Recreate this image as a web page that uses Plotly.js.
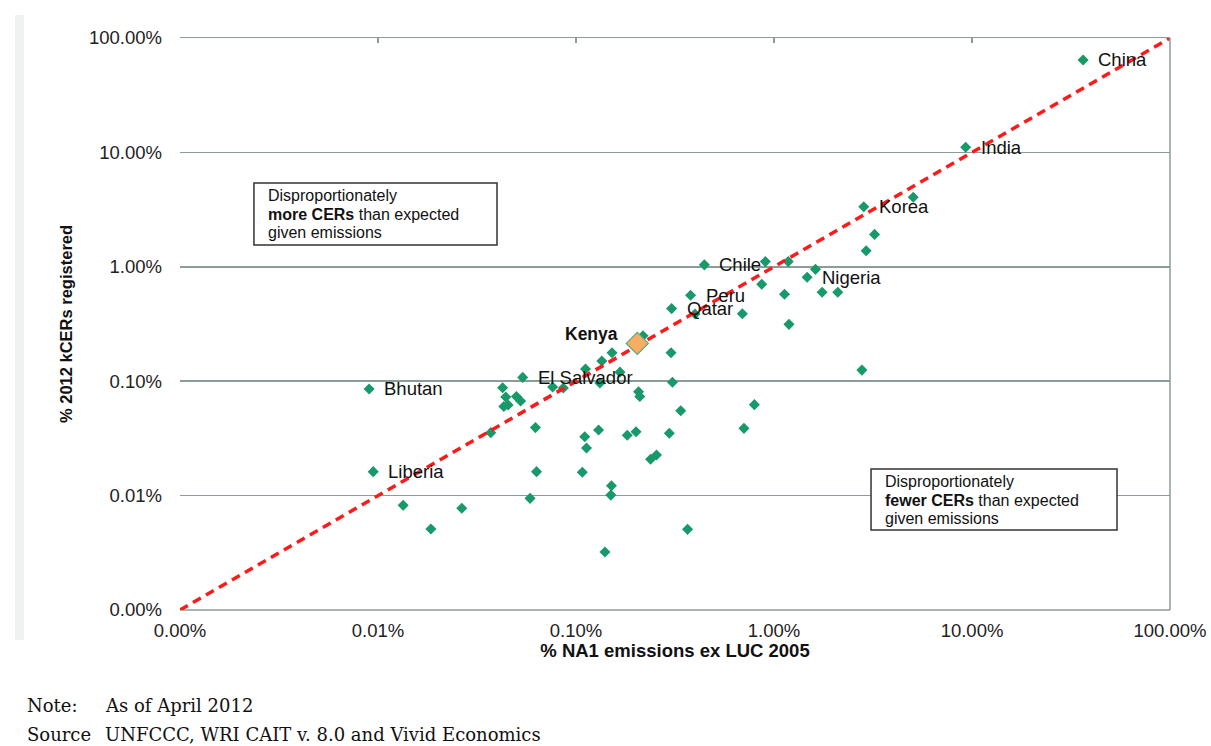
<!DOCTYPE html>
<html>
<head>
<meta charset="utf-8">
<script src="https://cdn.plot.ly/plotly-3.0.1.min.js"></script>
<style>
  html, body { margin: 0; padding: 0; background: #ffffff; }
  #chart { width: 1211px; height: 746px; }
</style>
</head>
<body>
<div id="chart"></div>
<script>
// Share of non-Annex 1 emissions (ex LUC, 2005) vs share of 2012 kCERs registered, in percent
const pointLabels = [
  'China', 'India', 'Korea', 'Chile', 'Nigeria', 'Peru', 'Qatar', 'El Salvador', 'Bhutan', 'Liberia',
  '', '', '', '', '', '', '', '', '', '', '', '', '', '', '', '', '', '', '', '', '', '', '', '', '',
  '', '', '', '', '', '', '', '', '', '', '', '', '', '', '', '', '', '', '', '', '', '', '', '', '',
  '', '', '', '', ''
];
const emissionsPct = [
  36.4, 9.29, 2.84, 0.445, 1.47, 0.379, 0.304, 0.0538, 0.00902, 0.00946,
  5.05, 3.22, 2.92, 1.62, 1.75, 2.10, 0.904, 1.18, 0.867, 1.13, 1.19, 0.692, 0.399, 0.302, 0.307,
  0.338, 0.796, 2.78, 0.0371, 0.0624, 0.1107, 0.130, 0.113, 0.1815, 0.201, 0.296, 0.705, 0.238, 0.255, 0.0632,
  0.1076, 0.151, 0.150, 0.0586, 0.366, 0.140, 0.0134, 0.0265, 0.0185, 0.0426, 0.0442, 0.0500, 0.0525, 0.0432, 0.0454,
  0.0762, 0.0863, 0.1117, 0.135, 0.152, 0.1667, 0.132, 0.207, 0.210, 0.218
];
const cersPct = [
  64.3, 11.1, 3.35, 1.04, 0.81, 0.564, 0.431, 0.108, 0.0855, 0.0162,
  4.05, 1.92, 1.38, 0.95, 0.60, 0.60, 1.11, 1.11, 0.703, 0.575, 0.314, 0.389, 0.386, 0.177, 0.0978,
  0.0552, 0.0624, 0.125, 0.0355, 0.0393, 0.0327, 0.0374, 0.0261, 0.0337, 0.0362, 0.0351, 0.0387, 0.0208, 0.0226, 0.0162,
  0.0160, 0.0122, 0.0101, 0.00946, 0.00507, 0.00321, 0.00822, 0.00775, 0.00511, 0.0877, 0.0728, 0.0734, 0.0671, 0.0601, 0.0620,
  0.0889, 0.0873, 0.128, 0.150, 0.177, 0.120, 0.0964, 0.0809, 0.0734, 0.250
];

// Highlighted country
const highlightName = 'Kenya';
const highlightEmissionsPct = [0.204];
const highlightCersPct = [0.214];

// 1:1 proportionality line across the full axis range
const parityX = [0.001, 100];
const parityY = [0.001, 100];

// Axis ticks
const tickValues = [0.001, 0.01, 0.1, 1, 10, 100];
const tickLabels = ['0.00%', '0.01%', '0.10%', '1.00%', '10.00%', '100.00%'];

const GREEN = '#17996a';
const GRID = '#8c9c96';
const SANS = 'Liberation Sans, Arial, sans-serif';

const traces = [
  {
    type: 'scatter', mode: 'markers',
    x: emissionsPct, y: cersPct, text: pointLabels,
    marker: { symbol: 'diamond', size: 8.5, color: GREEN, line: { width: 0 } },
    hoverinfo: 'text+x+y', showlegend: false
  },
  {
    type: 'scatter', mode: 'lines',
    x: parityX, y: parityY, xaxis: 'x2', yaxis: 'y',
    line: { color: '#ff1a1a', width: 3.5, dash: '9px,6px' },
    hoverinfo: 'skip', showlegend: false
  },
  {
    type: 'scatter', mode: 'markers',
    x: highlightEmissionsPct, y: highlightCersPct, text: [highlightName],
    xaxis: 'x2', yaxis: 'y',
    marker: { symbol: 'diamond', size: 17, color: '#f7ad63', line: { color: '#5fa37a', width: 1.2 } },
    hoverinfo: 'text+x+y', showlegend: false
  }
];

// Country name labels sit to the right of their marker
const annotations = [];
pointLabels.forEach((name, i) => {
  if (!name) return;
  annotations.push({
    x: Math.log10(emissionsPct[i]), y: Math.log10(cersPct[i]), xref: 'x', yref: 'y',
    text: name, showarrow: false, xanchor: 'left', yanchor: 'middle', xshift: 13,
    font: { family: SANS, size: 18.5, color: '#111111' }
  });
});
annotations.push({
  x: Math.log10(highlightEmissionsPct[0]), y: Math.log10(highlightCersPct[0]), xref: 'x', yref: 'y',
  text: '<b>' + highlightName + '</b>', showarrow: false, xanchor: 'right', yanchor: 'middle',
  xshift: -17, yshift: 9, font: { family: SANS, size: 17.5, color: '#111111' }
});

// Explanatory boxes
const boxFont = { family: SANS, size: 16, color: '#111111' };
const upperBoxLines = ['Disproportionately', '<b>more CERs</b> than expected', 'given emissions'];
const lowerBoxLines = ['Disproportionately', '<b>fewer CERs</b> than expected', 'given emissions'];
const upperBoxLineY = [0.7238, 0.6914, 0.6591];
const lowerBoxLineY = [0.2247, 0.1923, 0.1600];
upperBoxLines.forEach((t, i) => annotations.push({
  x: 0.0869, y: upperBoxLineY[i], xref: 'paper', yref: 'paper', text: t, showarrow: false,
  xanchor: 'left', yanchor: 'middle', font: boxFont
}));
lowerBoxLines.forEach((t, i) => annotations.push({
  x: 0.7101, y: lowerBoxLineY[i], xref: 'paper', yref: 'paper', text: t, showarrow: false,
  xanchor: 'left', yanchor: 'middle', font: boxFont
}));

// Footnotes
const noteFont = { family: 'DejaVu Serif, Georgia, serif', size: 18, color: '#111111' };
[
  ['Note:', -0.1566, -0.1678], ['As of April 2012', -0.0778, -0.1678],
  ['Source', -0.1566, -0.2185], ['UNFCCC, WRI CAIT v. 8.0 and Vivid Economics', -0.0778, -0.2185]
].forEach(([t, x, y]) => annotations.push({
  x: x, y: y, xref: 'paper', yref: 'paper', text: t, showarrow: false,
  xanchor: 'left', yanchor: 'middle', font: noteFont
}));

const layout = {
  width: 1211, height: 746,
  margin: { l: 180, r: 41, t: 38, b: 136 },
  paper_bgcolor: '#ffffff', plot_bgcolor: '#ffffff',
  showlegend: false,
  xaxis: {
    type: 'log', range: [-3, 2], tickvals: tickValues, ticktext: tickLabels,
    showgrid: false, zeroline: false, showline: false, ticks: '',
    ticklabelstandoff: 7,
    tickfont: { family: SANS, size: 18.5, color: '#222222' },
    title: { text: '<b>% NA1 emissions ex LUC 2005</b>', standoff: 3,
             font: { family: SANS, size: 18.5, color: '#111111' } },
    fixedrange: true
  },
  xaxis2: {
    type: 'log', range: [-3, 2], overlaying: 'x', side: 'top',
    tickvals: tickValues, showticklabels: false, showgrid: false, zeroline: false,
    showline: true, linecolor: GRID, linewidth: 1.5,
    ticks: 'inside', ticklen: 5, tickcolor: GRID, tickwidth: 1.2,
    fixedrange: true
  },
  yaxis: {
    type: 'log', range: [-3, 2], tickvals: tickValues, ticktext: tickLabels,
    showgrid: true, gridcolor: GRID, gridwidth: 1.5,
    zeroline: false, showline: false, ticks: '',
    ticklabelstandoff: 17,
    tickfont: { family: SANS, size: 18.5, color: '#222222' },
    title: { text: '<b>% 2012 kCERs registered</b>', standoff: 12,
             font: { family: SANS, size: 16.5, color: '#111111' } },
    fixedrange: true
  },
  shapes: [
    // pale strip down the left edge of the page
    { type: 'rect', xref: 'paper', yref: 'paper', x0: -0.1667, x1: -0.1576, y0: -0.0524, y1: 1.0402,
      fillcolor: '#edf3ef', line: { width: 0 }, layer: 'below' },
    // right-hand frame of the plot area
    { type: 'line', xref: 'paper', yref: 'paper', x0: 1, x1: 1, y0: 0, y1: 1,
      line: { color: GRID, width: 1.5 } },
    // bottom frame line
    { type: 'line', xref: 'paper', yref: 'paper', x0: 0, x1: 1, y0: 0, y1: 0,
      line: { color: GRID, width: 1.5 }, layer: 'below' },
    // text boxes
    { type: 'rect', xref: 'paper', yref: 'paper', x0: 0.0747, x1: 0.3202, y0: 0.638, y1: 0.7465,
      fillcolor: '#ffffff', line: { color: '#333333', width: 1.5 } },
    { type: 'rect', xref: 'paper', yref: 'paper', x0: 0.698, x1: 0.9465, y0: 0.1399, y1: 0.2465,
      fillcolor: '#ffffff', line: { color: '#333333', width: 1.5 } }
  ],
  annotations: annotations
};

Plotly.newPlot('chart', traces, layout, { displayModeBar: false, staticPlot: true });
</script>
</body>
</html>
